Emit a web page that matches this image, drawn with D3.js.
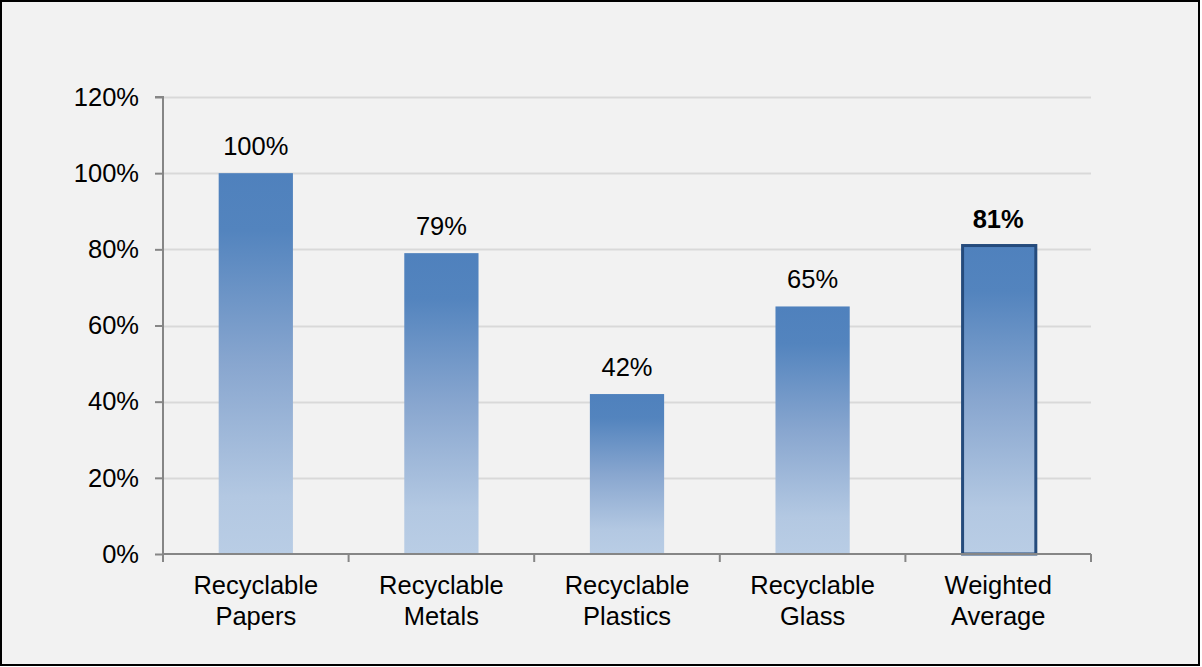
<!DOCTYPE html>
<html>
<head>
<meta charset="utf-8">
<script src="https://cdn.jsdelivr.net/npm/d3@7"></script>
<style>
  html, body { margin: 0; padding: 0; background: #ffffff; }
  svg { display: block; }
  text { font-family: "Liberation Sans", Arial, sans-serif; fill: #000; }
</style>
</head>
<body>
<svg id="chart" width="1202" height="667"></svg>
<script>
// Recovery rates by material stream
const categories = [["Recyclable", "Papers"], ["Recyclable", "Metals"], ["Recyclable", "Plastics"], ["Recyclable", "Glass"], ["Weighted", "Average"]];
const values = [100, 79, 42, 65, 81];
const highlighted = [false, false, false, false, true];
const yTicks = [0, 20, 40, 60, 80, 100, 120];

const W = 1202, H = 667;
const FS = 25.5;
const margin = { left: 163, right: 111, top: 97, bottom: 113 };
const svg = d3.select("#chart");

// Panel background and frame
svg.append("rect").attr("x", 1).attr("y", 1).attr("width", W - 4).attr("height", H - 3)
  .attr("fill", "#f2f2f2").attr("stroke", "#000").attr("stroke-width", 2);

const x = d3.scaleBand().domain(d3.range(categories.length))
  .range([margin.left, W - margin.right]).paddingInner(0.6).paddingOuter(0.3);
const y = d3.scaleLinear().domain([0, 120]).range([H - margin.bottom, margin.top]);

// Vertical gradient shared by all bars (each bar spans its own height)
const defs = svg.append("defs");
const grad = defs.append("linearGradient").attr("id", "barGrad")
  .attr("x1", 0).attr("y1", 0).attr("x2", 0).attr("y2", 1);
[[0, "#4f81bd"], [0.15, "#5384be"], [0.5, "#88a6cf"], [0.85, "#b3c8e2"], [1, "#b9cde5"]]
  .forEach(([o, c]) => grad.append("stop").attr("offset", o).attr("stop-color", c));

// Gridlines
svg.append("g").selectAll("line").data(yTicks.filter(t => t > 0)).join("line")
  .attr("x1", margin.left).attr("x2", W - margin.right)
  .attr("y1", d => Math.round(y(d)) + 0.5).attr("y2", d => Math.round(y(d)) + 0.5)
  .attr("stroke", "#d9d9d9").attr("stroke-width", 2);

// Bars
svg.append("g").selectAll("rect").data(values).join("rect")
  .attr("x", (d, i) => x(i) + (highlighted[i] ? 1.5 : 0))
  .attr("y", d => y(d))
  .attr("width", (d, i) => x.bandwidth() - (highlighted[i] ? 1 : 0))
  .attr("height", d => y(0) - y(d))
  .attr("fill", "url(#barGrad)")
  .attr("stroke", (d, i) => highlighted[i] ? "#254b7c" : "none")
  .attr("stroke-width", 3);

// Value labels
svg.append("g").selectAll("text").data(values).join("text")
  .attr("x", (d, i) => x(i) + x.bandwidth() / 2)
  .attr("y", d => y(d) - 18)
  .attr("text-anchor", "middle")
  .attr("font-size", FS)
  .attr("font-weight", (d, i) => highlighted[i] ? "bold" : "normal")
  .text(d => d + "%");

// Y axis
const yAxis = d3.axisLeft(y).tickValues(yTicks).tickSize(8).tickPadding(16).tickFormat(d => d + "%");
const gy = svg.append("g").attr("transform", `translate(${margin.left},0)`).call(yAxis);
gy.select(".domain").attr("stroke", "#868686").attr("stroke-width", 2).attr("d", `M-8,${y(120)}H0V${y(0)}`);
gy.selectAll(".tick line").attr("stroke", "#868686").attr("stroke-width", 2);
gy.selectAll(".tick text").attr("font-size", FS).attr("font-family", "Liberation Sans, Arial, sans-serif").attr("fill", "#000");

// X axis: baseline with ticks at category boundaries
const bounds = d3.range(categories.length + 1).map(i => margin.left + i * (W - margin.left - margin.right) / categories.length);
const gx = svg.append("g");
gx.append("line").attr("x1", margin.left).attr("x2", W - margin.right)
  .attr("y1", y(0)).attr("y2", y(0)).attr("stroke", "#868686").attr("stroke-width", 2);
gx.selectAll("line.tk").data(bounds).join("line").attr("class", "tk")
  .attr("x1", d => d).attr("x2", d => d).attr("y1", y(0)).attr("y2", y(0) + 8)
  .attr("stroke", "#868686").attr("stroke-width", 2);

// Category labels, two lines each
const lbl = svg.append("g").selectAll("text").data(categories).join("text")
  .attr("text-anchor", "middle").attr("font-size", FS);
lbl.each(function (d, i) {
  const t = d3.select(this);
  const cx = x(i) + x.bandwidth() / 2;
  d.forEach((line, k) => {
    t.append("tspan").attr("x", cx).attr("y", y(0) + 40 + k * 31).text(line);
  });
});
</script>
</body>
</html>
